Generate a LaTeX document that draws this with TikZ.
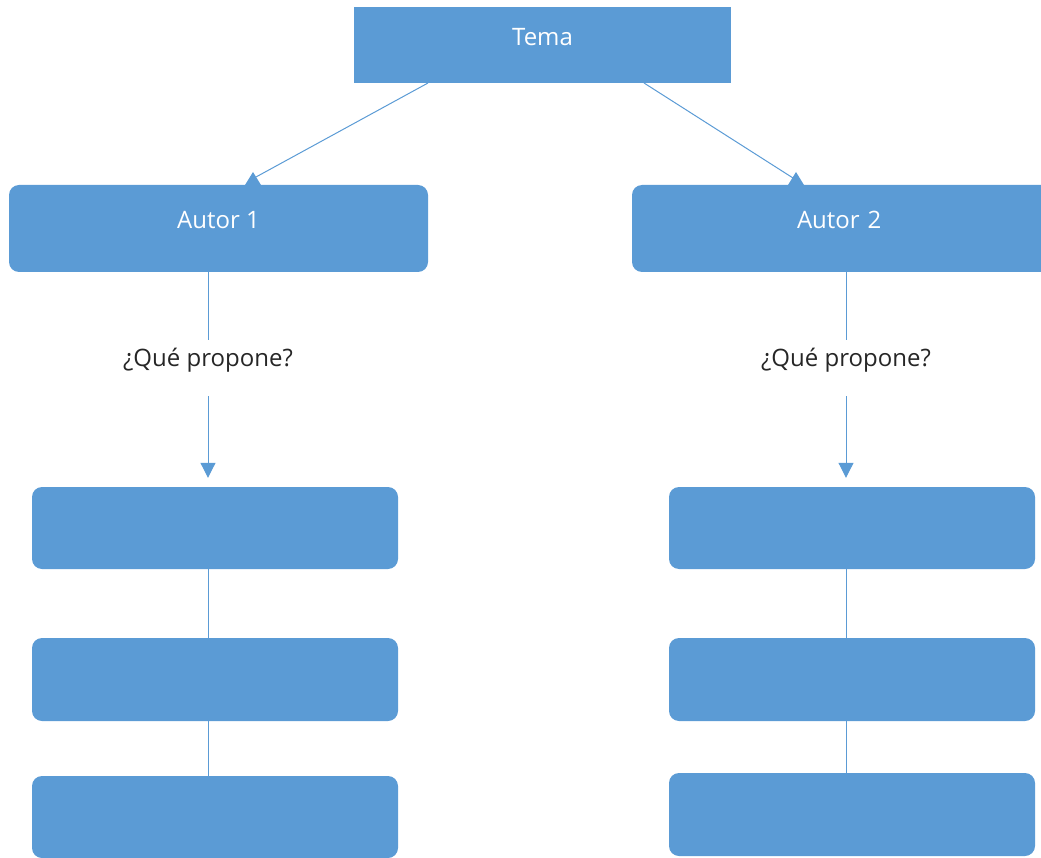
\documentclass[tikz,border=0pt]{standalone}
\usepackage{fontspec}
\setmainfont{Open Sans}
\usetikzlibrary{arrows.meta}
\definecolor{obl}{HTML}{5B9BD5}
\tikzset{
  box/.style={fill=obl, draw=none, text=white, inner sep=0pt, text height=17pt, text depth=16pt, font=\fontsize{24}{28}\selectfont},
  rbox/.style={box, rounded corners=10pt},
  conn/.style={draw=obl, line width=1pt},
  qlabel/.style={inner sep=0pt, minimum height=56pt, text height=17pt, text depth=20pt, text=black!85, font=\fontsize{24}{28}\selectfont},
  tipv/.style={-{Triangle[width=15pt,length=15pt]}, shorten >=9pt}
}
\begin{document}
\begin{tikzpicture}[x=1pt,y=-1pt]
\useasboundingbox (0,0) rectangle (1041,858);
\clip (0,0) rectangle (1041,858);
% boxes
\node[box, minimum width=377pt, minimum height=76pt] (tema) at (542.5,45) {Tema};
\node[rbox, minimum width=419pt, minimum height=87pt] (a1) at (218.5,228.5) {Autor 1};
\node[rbox, minimum width=419pt, minimum height=87pt, text width=409pt, align=left] (a2) at (841.5,228.5) {\hspace*{160pt}Autor 2};
\node[rbox, minimum width=366pt, minimum height=82pt] (l1) at (215,528) {};
\node[rbox, minimum width=366pt, minimum height=83pt] (l2) at (215,679.5) {};
\node[rbox, minimum width=366pt, minimum height=82pt] (l3) at (215,817) {};
\node[rbox, minimum width=366pt, minimum height=82pt] (r1) at (852,528) {};
\node[rbox, minimum width=366pt, minimum height=83pt] (r2) at (852,679.5) {};
\node[rbox, minimum width=366pt, minimum height=83pt] (r3) at (852,814.5) {};
% labels
\node[qlabel] (q1) at (208,368) {¿Qué propone?};
\node[qlabel] (q2) at (846,368) {¿Qué propone?};
% diagonal connectors
\coordinate (t1) at (428,83);
\coordinate (t2) at (644,83);
\coordinate (h1) at (253,172);
\coordinate (h2) at (796,172);
\draw[conn] (t1) -- ([shift={(3,5)}]h1);
\fill[obl] (h1) -- ([shift={(8,13)}]h1) -- ([shift={(-8,13)}]h1) -- cycle;
\draw[conn] (t2) -- ([shift={(-3,6)}]h2);
\fill[obl] (h2) -- ([shift={(8,13)}]h2) -- ([shift={(-8,13)}]h2) -- cycle;
% vertical connectors
\draw[conn] (q1.north |- a1.south) -- (q1.north);
\draw[conn, tipv] (q1.south) -- (q1.south |- l1.north);
\draw[conn] (q1 |- l1.south) -- (q1 |- l2.north);
\draw[conn] (q1 |- l2.south) -- (q1 |- l3.north);
\draw[conn] (q2.north |- a2.south) -- (q2.north);
\draw[conn, tipv] (q2.south) -- (q2.south |- r1.north);
\draw[conn] (q2 |- r1.south) -- (q2 |- r2.north);
\draw[conn] (q2 |- r2.south) -- (q2 |- r3.north);
\end{tikzpicture}
\end{document}
